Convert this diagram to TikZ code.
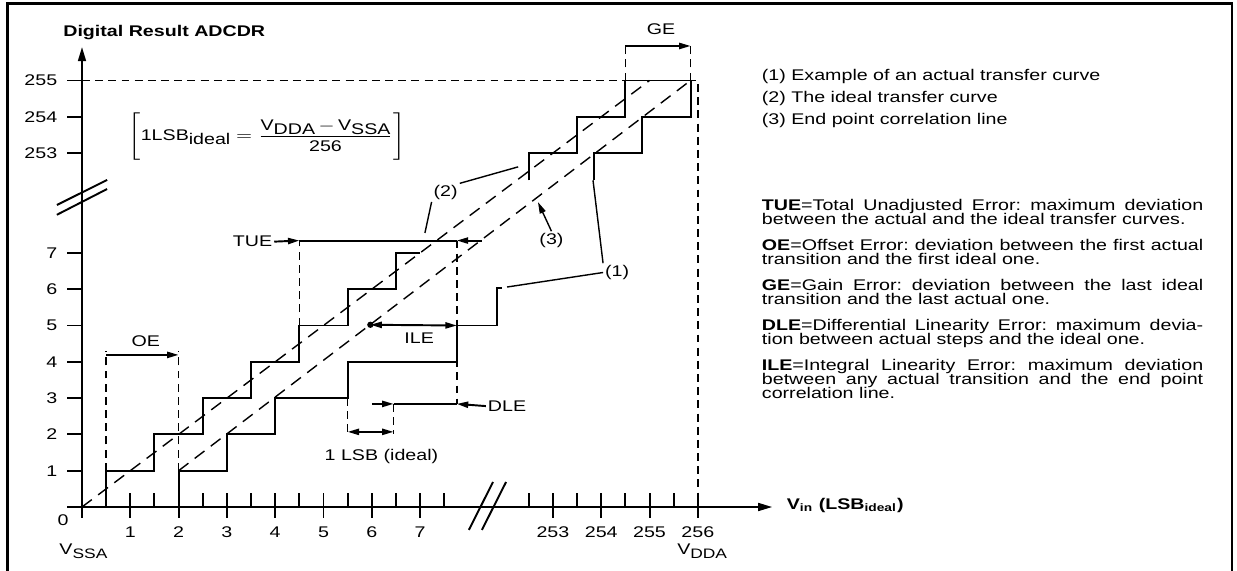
\documentclass[tikz,border=0pt]{standalone}
\usepackage{amsmath}
\usepackage{graphicx}
\usepackage{fontspec}
\setmainfont{Liberation Sans}
\usetikzlibrary{arrows.meta,positioning,calc}

\newcommand{\wide}[1]{\scalebox{1.27}[1]{#1}}
\newcommand{\lowsub}[1]{\raisebox{-0.45ex}{#1}}
\frenchspacing

\begin{document}
\begin{tikzpicture}[x=0.966cm, y=0.726cm,
    font=\fontsize{8.8pt}{10pt}\selectfont,
    lbl/.style={inner sep=1pt},
    axis/.style={line width=1.1pt},
    curve/.style={line width=1.1pt},
    guide/.style={line width=0.8pt, dash pattern=on 4.5pt off 3pt},
    diag/.style={line width=0.8pt, dash pattern=on 7pt off 4.5pt},
    leader/.style={line width=0.8pt},
    dim/.style={line width=1.1pt, -{Triangle[length=6.5pt,width=3.5pt]}},
    dimboth/.style={line width=1.1pt, {Triangle[length=6.5pt,width=3.5pt]}-{Triangle[length=6.5pt,width=3.5pt]}}]

  \useasboundingbox (-1.6977,-1.7355) rectangle (23.913,13.967);
  % frame, open at the bottom
  \draw[line width=1.4pt] (-1.54,-1.76) -- (-1.54,13.87) -- (23.81,13.87) -- (23.81,-1.76);

  % axes
  \draw[axis, -{Triangle[length=8pt,width=4.5pt]}] (0,-0.3) -- (0,12.67);
  \draw[axis, -{Triangle[length=8pt,width=4.5pt]}] (-0.31,0) -- (14.29,0);
  \foreach \t in {1,2,3,4,5,6,7,9.75,10.75,11.75,12.75}
    \draw[axis] (\t,-0.3) -- (\t,0.38);
  \foreach \t in {0.5,1.5,2.5,3.5,4.5,5.5,6.5,7.5,9.25,10.25,11.25,12.25}
    \draw[axis] (\t,0) -- (\t,0.38);
  \foreach \v in {1,...,7} {
    \draw[axis] (-0.31,\v) -- (0,\v);
    \node[lbl, anchor=east] (yl\v) at (-0.47,\v) {\wide{\v}};
    \node[lbl] (xl\v) at (\v,-0.69) {\wide{\v}};
  }
  \foreach \c/\p in {253/9.75,254/10.75,255/11.75} {
    \draw[axis] (-0.31,\p) -- (0,\p);
    \node[lbl, anchor=east] (yl\c) at (-0.47,\p) {\wide{\c}};
  }
  \foreach \c/\p in {253/9.75,254/10.75,255/11.75,256/12.75}
    \node[lbl] (xl\c) at (\p,-0.69) {\wide{\c}};

  % axis breaks
  \draw[axis] (8.01,-0.63) -- (8.51,0.69);
  \draw[axis] (8.28,-0.63) -- (8.78,0.69);
  \draw[axis] (-0.52,8.05) -- (0.52,8.76);
  \draw[axis] (-0.52,8.32) -- (0.52,9.01);

  \node[lbl, anchor=west] (ytitle) at (-0.43,13.06) {\wide{\textbf{Digital Result ADCDR}}};
  \node[lbl, anchor=west] (xtitle) at (14.55,0.05) {\wide{\textbf{V\textsubscript{in} (LSB\textsubscript{ideal})}}};
  \node[lbl] (zero) at (-0.39,-0.36) {\wide{0}};
  \node[lbl] (vssa) at (0.03,-1.22) {\wide{V\lowsub{\fontsize{7.8pt}{8pt}\selectfont SSA}}};
  \node[lbl] (vdda) at (12.84,-1.22) {\wide{V\lowsub{\fontsize{7.8pt}{8pt}\selectfont DDA}}};

  \node[lbl] (lsbdef) at (3.83,10.2) {\wide{$\Biggl[\text{1LSB\lowsub{ideal}} = \dfrac{\text{V\lowsub{DDA}}\,{-}\,\text{V\lowsub{SSA}}}{\text{256}}\Biggr]$}};

  % full scale guides
  \draw[guide] (0,11.75) -- (12.75,11.75) -- (12.75,0);

  % ideal and end point lines
  \draw[diag] (0,0) -- (11.75,11.75);
  \draw[diag] (2,1) -- (12.6,11.75);

  % ideal transfer curve
  \draw[curve] (0.5,0) |- (1.5,1) |- (2.5,2) |- (3.5,3) |- (4.5,4) |- (5.5,5) |- (6.5,6) |- (7,7);
  \draw[curve] (9.25,9.0) |- (10.25,9.75) |- (11.25,10.75) |- (12.6,11.75);
  % actual transfer curve
  \draw[curve] (2,0) |- (3,1) |- (4,2) |- (5.5,3) |- (7.76,4) |- (8.6,5) |- (8.7,6.03);
  \draw[curve] (10.6,9.0) |- (11.6,9.75) |- (12.6,10.75) -- (12.6,11.75);

  % OE
  \coordinate (oeA) at (0.5,4.19);
  \coordinate (oeB) at (2,4.19);
  \draw[guide] (0.5,1) -- (0.5,4.3);
  \draw[guide] (2,1) -- (2,4.3);
  \draw[dim] (oeA) -- (oeB);
  \node[lbl] (oe) at (1.32,4.57) {\wide{OE}};

  % TUE
  \coordinate (tueA) at (4.5,7.34);
  \coordinate (tueB) at (7.76,7.34);
  \coordinate (tueC) at (8.28,7.34);
  \draw[guide] (4.5,5) -- (tueA);
  \draw[guide] (tueB) -- (7.76,2.84);
  \node[lbl] (tue) at (3.53,7.31) {\wide{TUE}};
  \draw[dim] (tue.east) -- (tueA);
  \draw[curve] (tueA) -- (tueB);
  \draw[dim] (tueC) -- (tueB);

  % ILE
  \coordinate (ileDot) at (5.97,5.02);
  \coordinate (ileEnd) at (7.76,5.0);
  \fill (ileDot) circle (1.8pt);
  \draw[dimboth] (ileDot) -- (ileEnd);
  \node[lbl] (ile) at (6.98,4.64) {\wide{ILE}};

  % DLE and 1 LSB
  \coordinate (dleA) at (6.0,2.84);
  \coordinate (dleB) at (6.45,2.84);
  \coordinate (dleC) at (7.76,2.84);
  \draw[guide] (5.5,3) -- (5.5,2.0);
  \draw[guide] (dleB) -- (6.45,2.0);
  \draw[dim] (dleA) -- (dleB);
  \draw[curve] (dleB) -- (dleC);
  \node[lbl] (dle) at (8.8,2.78) {\wide{DLE}};
  \draw[dim] (dle.west) -- (dleC);
  \draw[dimboth] (5.5,2.07) -- (6.45,2.07);
  \node[lbl] (lsb) at (6.2,1.38) {\wide{1 LSB (ideal)}};

  % GE
  \coordinate (geA) at (11.25,12.7);
  \coordinate (geB) at (12.6,12.7);
  \draw[guide] (11.25,11.75) -- (11.25,12.82);
  \draw[guide] (12.6,11.75) -- (12.6,12.82);
  \draw[dim] (geA) -- (geB);
  \node[lbl] (ge) at (11.99,13.17) {\wide{GE}};

  % curve labels
  \node[lbl] (lblTwo) at (7.53,8.66) {\wide{(2)}};
  \node[lbl] (lblThree) at (9.72,7.34) {\wide{(3)}};
  \node[lbl] (lblOne) at (11.08,6.46) {\wide{(1)}};
  \coordinate (idealTop) at (9.03,9.37);
  \coordinate (idealLow) at (7.1,7.55);
  \coordinate (endLine) at (9.44,8.4);
  \coordinate (actualTop) at (10.58,9.0);
  \coordinate (actualLow) at (8.8,6.06);
  \draw[leader] (lblTwo.north east) -- (idealTop);
  \draw[leader] (lblTwo.south west) -- (idealLow);
  \draw[leader, -{Triangle[length=6.5pt,width=3.5pt]}] (lblThree.north) -- (endLine);
  \draw[leader] (lblOne.north west) -- (actualTop);
  \draw[leader] (lblOne.west) -- (actualLow);

  % legend
  \node[inner sep=0pt, anchor=base west] (legend) at (14.07,11.745) {\wide{\parbox[t]{6.95cm}{\fontsize{8.8pt}{12.5pt}\selectfont
    (1) Example of an actual transfer curve\\
    (2) The ideal transfer curve\\
    (3) End point correlation line}}};
  \node[inner sep=0pt, anchor=base west] (errors) at (14.07,8.18) {\wide{\parbox[t]{6.95cm}{\fontsize{8.8pt}{8.15pt}\selectfont
    \lineskiplimit=-5pt\setlength{\parskip}{6.5pt}\setlength{\parindent}{0pt}
    \textbf{TUE}=Total Unadjusted Error: maximum deviation\linebreak between the actual and the ideal transfer curves.\par
    \textbf{OE}=Offset Error: deviation between the first actual\linebreak transition and the first ideal one.\par
    \textbf{GE}=Gain Error: deviation between the last ideal\linebreak transition and the last actual one.\par
    \textbf{DLE}=Differential Linearity Error: maximum devia-\linebreak tion between actual steps and the ideal one.\par
    \textbf{ILE}=Integral Linearity Error: maximum deviation\linebreak between any actual transition and the end point\linebreak correlation line.}}};
\end{tikzpicture}
\end{document}
